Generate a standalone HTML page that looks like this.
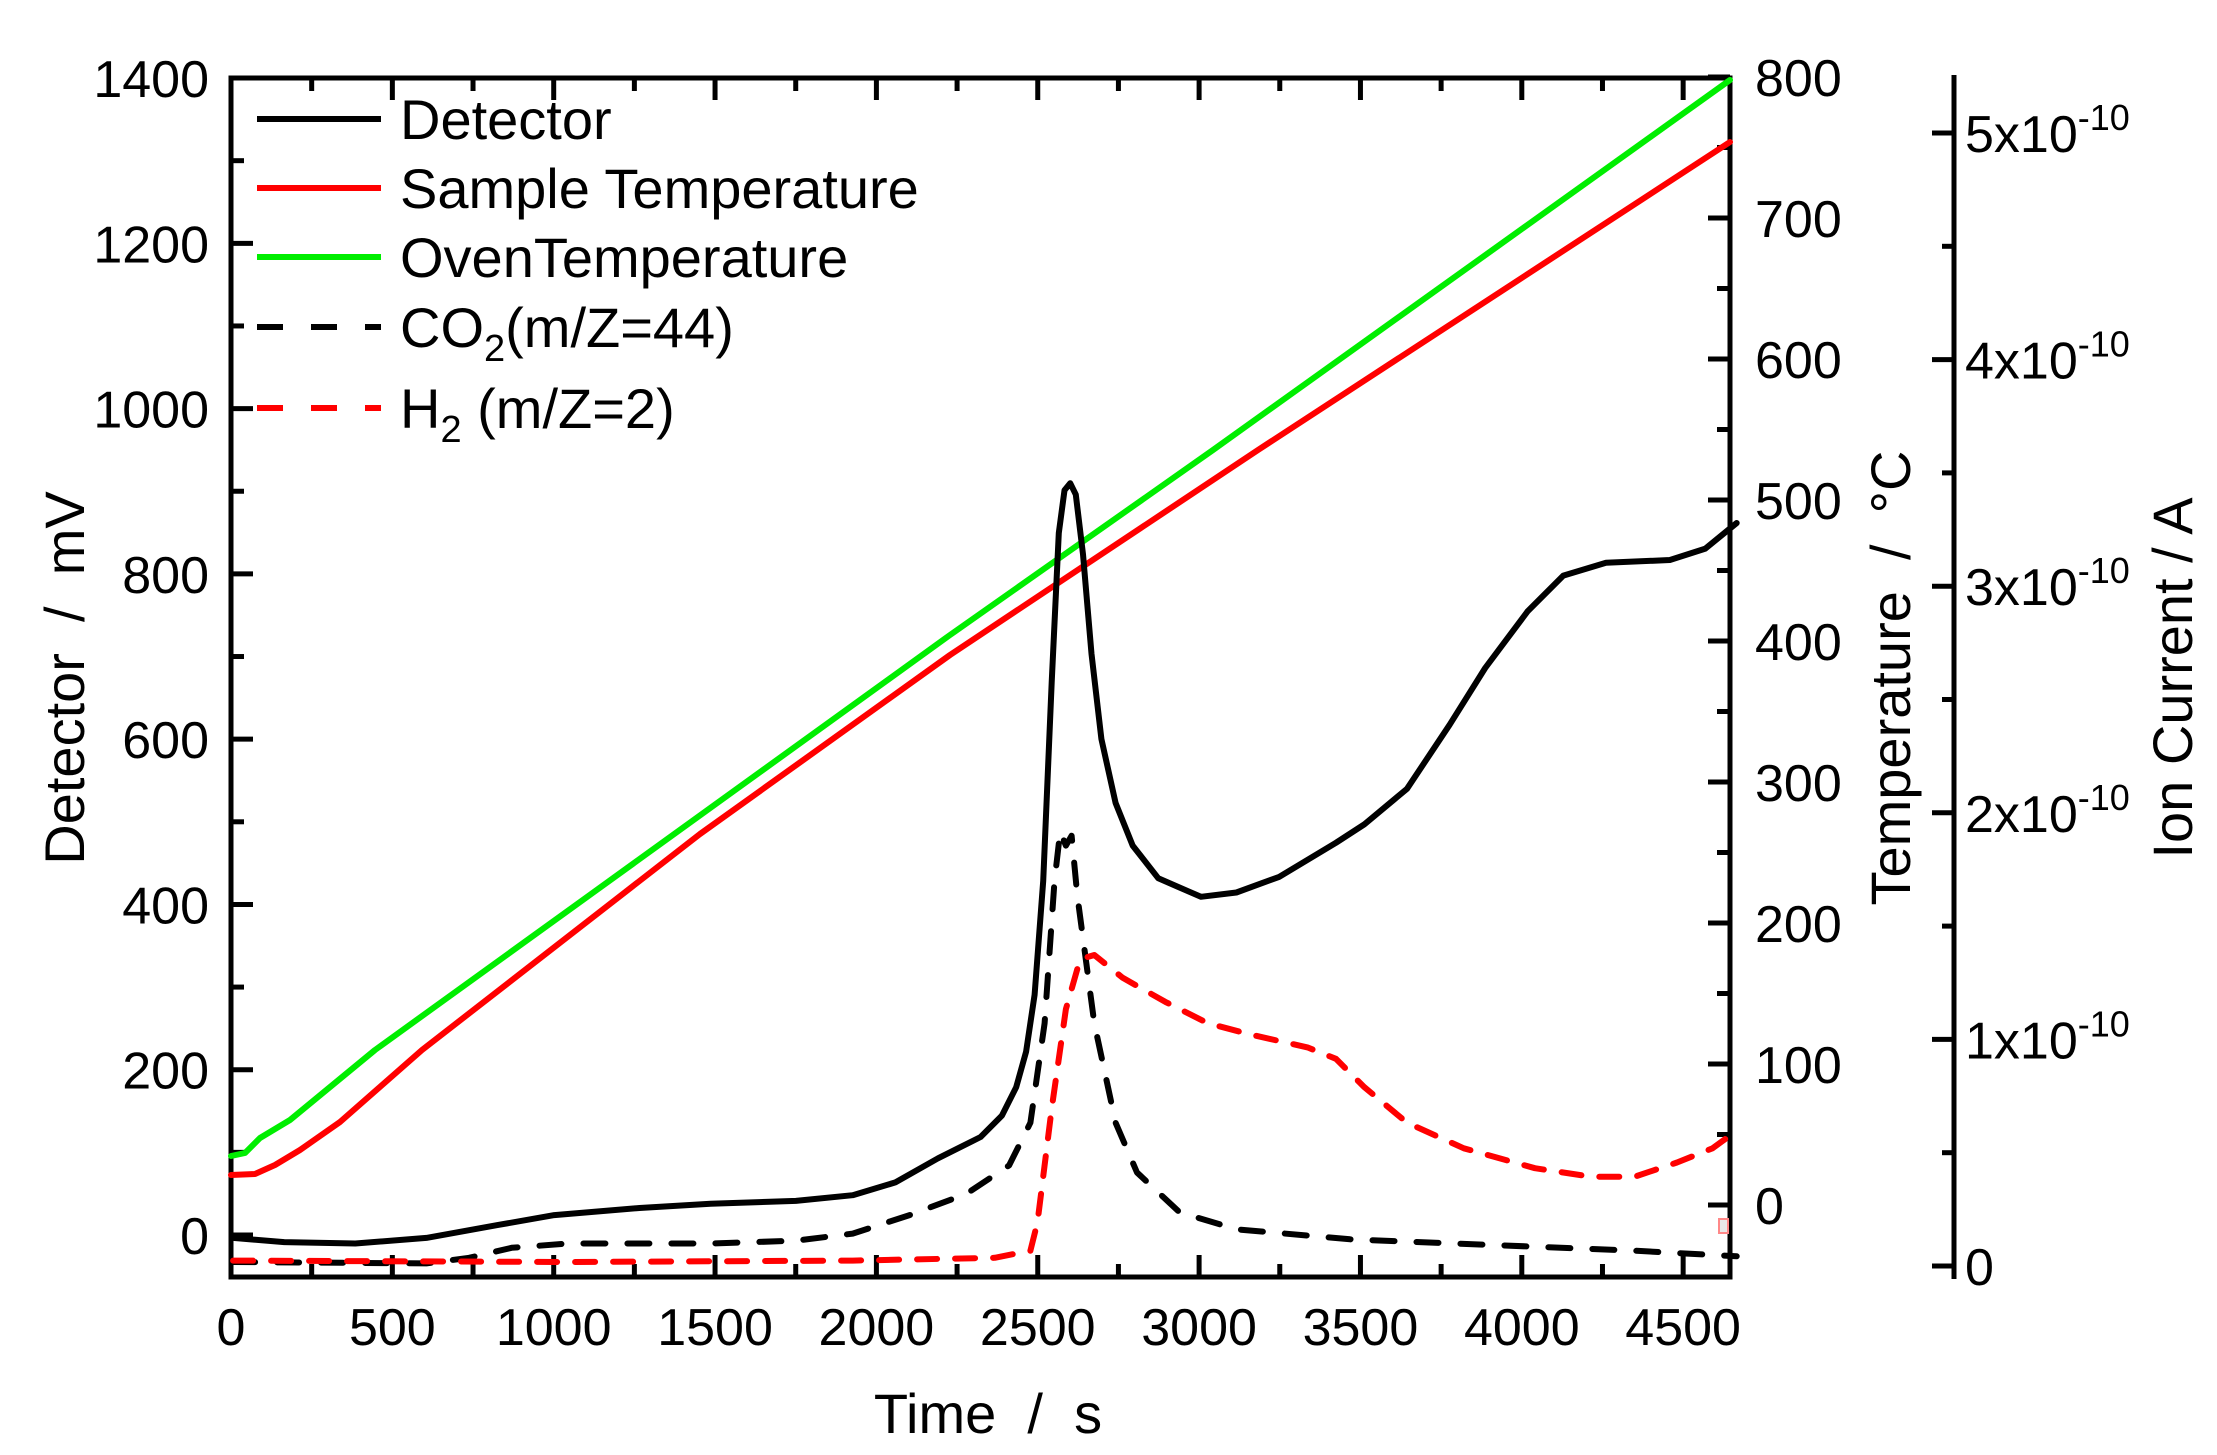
<!DOCTYPE html>
<html><head><meta charset="utf-8"><style>
html,body{margin:0;padding:0;background:#fff}
svg{display:block}
text{font-family:"Liberation Sans",Arial,sans-serif;fill:#000}
</style></head><body>
<svg id="s" width="2217" height="1455" viewBox="0 0 2217 1455" xmlns="http://www.w3.org/2000/svg">
<g id="ax" stroke="#000" stroke-width="5" fill="none"></g>
<g id="data" fill="none" stroke-linejoin="round" stroke-linecap="round"></g>
<g id="lab" font-size="52"></g>
<g font-size="56">
<line x1="257" y1="119" x2="381" y2="119" stroke="#000" stroke-width="6"/>
<text x="400" y="139">Detector</text>
<line x1="257" y1="188" x2="381" y2="188" stroke="#f00" stroke-width="6"/>
<text x="400" y="208">Sample Temperature</text>
<line x1="257" y1="257" x2="381" y2="257" stroke="#0e0" stroke-width="6"/>
<text x="400" y="277">OvenTemperature</text>
<line x1="257" y1="327" x2="381" y2="327" stroke="#000" stroke-width="6" stroke-dasharray="26,28"/>
<text x="400" y="347">CO<tspan font-size="38" dy="14">2</tspan><tspan dy="-14">(m/Z=44)</tspan></text>
<line x1="257" y1="408" x2="381" y2="408" stroke="#f00" stroke-width="6" stroke-dasharray="26,28"/>
<text x="400" y="428">H<tspan font-size="38" dy="14">2</tspan><tspan dy="-14"> (m/Z=2)</tspan></text>
</g>
<text x="988" y="1433" font-size="56" text-anchor="middle">Time&#160; /&#160; s</text>
<text transform="translate(84,678) rotate(-90)" font-size="56" text-anchor="middle">Detector&#160; /&#160; mV</text>
<text transform="translate(1910,678) rotate(-90)" font-size="56" text-anchor="middle">Temperature&#160; /&#160; °C</text>
<text transform="translate(2192,678) rotate(-90)" font-size="56" text-anchor="middle">Ion Current / A</text>
<rect x="1719" y="1219" width="9" height="14" fill="#e8e8e8" stroke="#f88" stroke-width="2"/>
</svg>
<script>
var NS="http://www.w3.org/2000/svg";
function el(p,t,a){var e=document.createElementNS(NS,t);for(var k in a)e.setAttribute(k,a[k]);p.appendChild(e);return e;}
var ax=document.getElementById('ax'),lab=document.getElementById('lab'),dg=document.getElementById('data');
var L=231,R=1730,T=78,B=1277;
el(ax,'rect',{x:L,y:T,width:R-L,height:B-T});
function X(s){return L+s*0.3227;}
for(var s=0;s<=4600;s+=250){var x=X(s),len=(s%500==0)?22:13;
 el(ax,'line',{x1:x,y1:B,x2:x,y2:B-len});el(ax,'line',{x1:x,y1:T,x2:x,y2:T+len});
 if(s%500==0){var t=el(lab,'text',{x:x,y:1345,'text-anchor':'middle'});t.textContent=s;}}
function YL(v){return 1235-v*0.8264;}
for(var v=0;v<=1400;v+=100){var y=YL(v),len=(v%200==0)?22:13;el(ax,'line',{x1:L,y1:y,x2:L+len,y2:y});
 if(v%200==0){var t=el(lab,'text',{x:209,y:y+19,'text-anchor':'end'});t.textContent=v;}}
function YT(v){return 1205-v*1.41;}
for(var v=0;v<=800;v+=50){var y=YT(v),len=(v%100==0)?22:13;el(ax,'line',{x1:R,y1:y,x2:R-len,y2:y});
 if(v%100==0){var t=el(lab,'text',{x:1755,y:y+19});t.textContent=v;}}
var IX=1954;el(ax,'line',{x1:IX,y1:75,x2:IX,y2:1279});
for(var i=0;i<=10;i++){var y=1266-i*113.3,len=(i%2==0)?22:12;el(ax,'line',{x1:IX,y1:y,x2:IX-len,y2:y});
 if(i%2==0){var t=el(lab,'text',{x:1965,y:y+19});if(i==0)t.textContent='0';else{t.textContent=(i/2)+'x10';var sp=el(t,'tspan',{dy:-22,'font-size':36});sp.textContent='-10';}}}
var k=1.4212;
function P(arr,stroke,dash,sc){var pts=arr.map(function(p){return sc?(p[0]*k).toFixed(1)+','+(p[1]*k).toFixed(1):p[0]+','+p[1];}).join(' ');
 var a={points:pts,stroke:stroke,'stroke-width':6};if(dash)a['stroke-dasharray']=dash;el(dg,'polyline',a);}
P([[231,1156],[245,1153],[260,1138],[290,1120],[375,1050],[950,635],[1213,450],[1730,80]],'#0e0',null,false);
P([[231,1175],[255,1174],[275,1165],[300,1150],[340,1122],[422,1050],[700,834],[950,655],[1258,450],[1730,142]],'#f00',null,false);
P([[164,888],[300,889],[330,885],[360,878],[400,875],[500,875],[560,873],[600,868],[640,855],[680,840],[710,820],[725,790],[735,720],[742,620],[746,585],[750,595],[754,588],[758,630],[770,720],[785,790],[800,825],[830,853],[870,865],[950,872],[1050,876],[1150,880],[1222,884]],'#000','22,22',true);
P([[164,887],[400,888],[600,887],[700,885],[725,880],[730,860],[740,780],[750,710],[760,675],[770,672],[790,688],[820,705],[850,720],[880,728],[920,737],[940,745],[960,765],[990,790],[1030,808],[1080,822],[1120,828],[1150,828],[1180,818],[1205,808],[1220,797]],'#f00','20,18',true);
P([[164,871],[200,874],[250,875],[300,871],[350,862],[390,855],[450,850],[500,847],[560,845],[600,841],[630,832],[660,815],[690,800],[705,785],[715,765],[722,740],[728,700],[734,620],[740,480],[745,375],[749,345],[753,340],[757,348],[762,390],[768,460],[775,520],[785,565],[797,595],[815,618],[845,631],[870,628],[900,617],[940,593],[960,580],[990,555],[1020,510],[1045,470],[1075,430],[1100,405],[1130,396],[1175,394],[1200,386],[1222,368]],'#000',null,true);
</script>
</body></html>
